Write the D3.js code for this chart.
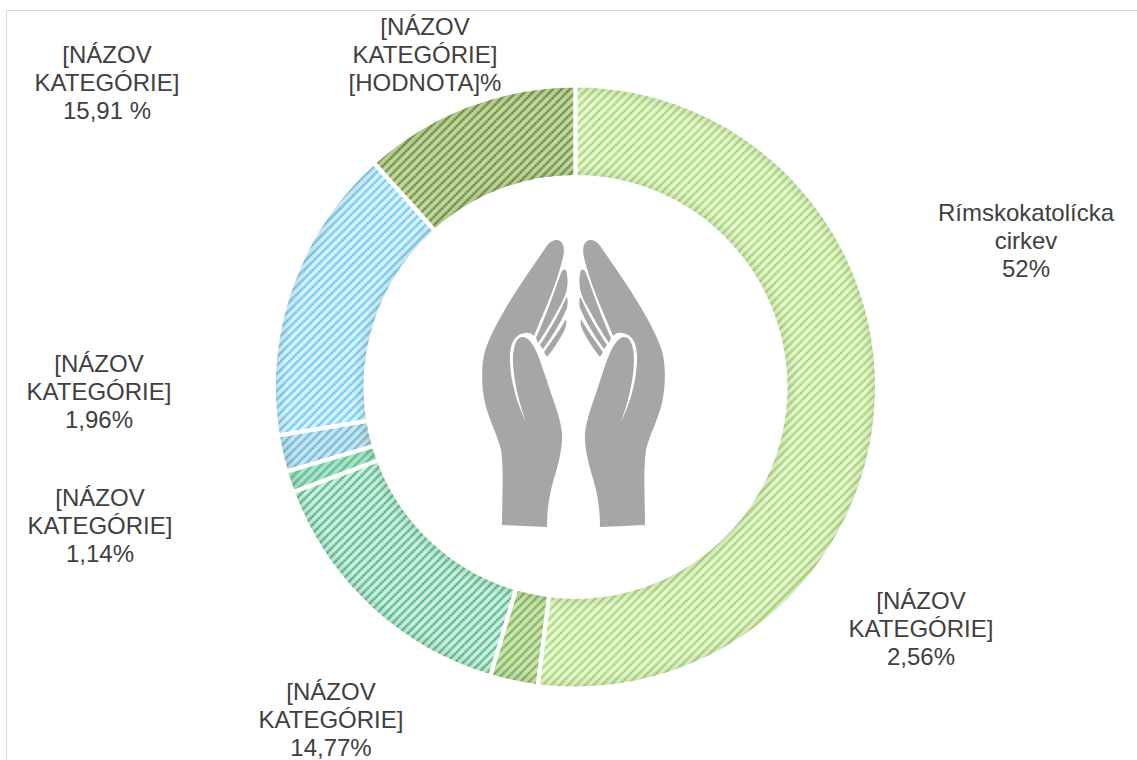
<!DOCTYPE html>
<html><head><meta charset="utf-8">
<script src="https://cdn.jsdelivr.net/npm/d3@7"></script>
<style>html,body{margin:0;padding:0;background:#fff;overflow:hidden}svg{display:block}text{font-family:"Liberation Sans",Arial,sans-serif;fill:#404040;font-size:24px}</style>
</head><body><div id="chart"></div>
<script>
const categories=["Rímskokatolícka cirkev","[NÁZOV KATEGÓRIE] a","[NÁZOV KATEGÓRIE] b","[NÁZOV KATEGÓRIE] c","[NÁZOV KATEGÓRIE] d","[NÁZOV KATEGÓRIE] e","[NÁZOV KATEGÓRIE] f"];
const values=[52,2.56,14.77,1.14,1.96,15.91,11.66];
const stripeColors=["#97d455","#6ea846","#35b07c","#45b68b","#5cb0d3","#55c0f6","#5a8230"];
const lightColors=["#eaf6d9","#cce3b2","#d0efdf","#aee1c8","#c8e5f0","#dbf3ff","#c4d8a2"];
const labelLines=[["Rímskokatolícka","cirkev","52%"],["[NÁZOV","KATEGÓRIE]","2,56%"],["[NÁZOV","KATEGÓRIE]","14,77%"],["[NÁZOV","KATEGÓRIE]","1,14%"],["[NÁZOV","KATEGÓRIE]","1,96%"],["[NÁZOV","KATEGÓRIE]","15,91 %"],["[NÁZOV","KATEGÓRIE]","[HODNOTA]%"]];
const labelCx=[1026,921,331,100,99,107,425];
const labelCy=[241,629,720,526,392,83,55];

const W=1137,H=760,cx=575.5,cy=387,R=301.5,r=210;
const svg=d3.select("#chart").append("svg").attr("width",W).attr("height",H);
const defs=svg.append("defs");
svg.append("rect").attr("x",6.5).attr("y",10.5).attr("width",1160).attr("height",800).attr("fill","#fff").attr("stroke","#d9d9d9");

categories.forEach((c,i)=>{
  const p=defs.append("pattern").attr("id","p"+i).attr("patternUnits","userSpaceOnUse")
    .attr("width",6).attr("height",3).attr("patternTransform","rotate(45)");
  p.append("rect").attr("width",6).attr("height",3).attr("fill",lightColors[i]);
  p.append("rect").attr("x",0).attr("width",3).attr("height",3).attr("fill",stripeColors[i]).attr("opacity",.4);
  p.append("rect").attr("x",.8).attr("width",1.4).attr("height",2).attr("fill",stripeColors[i]);
});
defs.append("filter").attr("id","soft").attr("x","-5%").attr("y","-5%").attr("width","110%").attr("height","110%")
  .append("feGaussianBlur").attr("stdDeviation",.6);
const g2=defs.append("radialGradient").attr("id","edgeLocal").attr("gradientUnits","userSpaceOnUse").attr("cx",0).attr("cy",0).attr("r",R);
[[r/R,.12],[(r+13)/R,0],[(R-13)/R,0],[1,.12]].forEach(s=>g2.append("stop").attr("offset",s[0]).attr("stop-color","#204000").attr("stop-opacity",s[1]));

const pie=d3.pie().sort(null).value(d=>d)(values);
const arc=d3.arc().innerRadius(r).outerRadius(R);
const ring=svg.append("g").attr("transform",`translate(${cx},${cy})`);
ring.append("g").attr("filter","url(#soft)").selectAll("path").data(pie).join("path").attr("d",arc).attr("fill",(d,i)=>`url(#p${i})`);
ring.selectAll("path.o").data(pie).join("path").attr("class","o").attr("d",arc).attr("fill","url(#edgeLocal)");
ring.selectAll("path.b").data(pie).join("path").attr("class","b").attr("d",arc).attr("fill","none").attr("stroke","#fff").attr("stroke-width",4);

const handPath="M562 243 C559 238 551 239 546 247 C527 275 498 315 486 348 C481 362 481 385 485 403 C489 420 498 436 501 450 C504 470 502 500 502 525 L547 527 C547 510 549 497 553 482 C558 465 563 448 562 433 C560 415 552 398 546 378 C540 360 534 340 524 337 C515 336 513 350 513 362 C514 385 520 405 526 422 C518 405 511 385 510 362 C509 345 514 334 525 333 C529 332 532 334 534 336 C541 318 553 293 559 272 C563 258 566 250 562 243 Z";
const fingerPaths=["M536 338 C545 318 555 290 561 273 C563 268 567 268 567 275 C569 285 566 296 560 306 C553 319 546 331 538 343 Z",
"M540 345 C548 333 560 313 566 298 C568 296 568 302 567 308 C561 322 552 337 543 349 Z",
"M544 352 C551 342 560 330 566 319 C567 323 566 328 563 333 C558 342 553 350 547 357 Z"];
const hands=svg.append("g").attr("fill","#a6a6a6");
[`translate(0,0)`,`translate(1147,0) scale(-1,1)`].forEach(t=>{
  const h=hands.append("g").attr("transform",t);
  h.append("path").attr("d",handPath);
  fingerPaths.forEach(f=>h.append("path").attr("d",f));
});

const lh=28;
labelLines.forEach((ls,i)=>{
  const t=svg.append("text").attr("text-anchor","middle");
  ls.forEach((s,j)=>t.append("tspan").attr("x",labelCx[i]).attr("y",labelCy[i]+(j-1)*lh+8).text(s));
});
</script></body></html>
